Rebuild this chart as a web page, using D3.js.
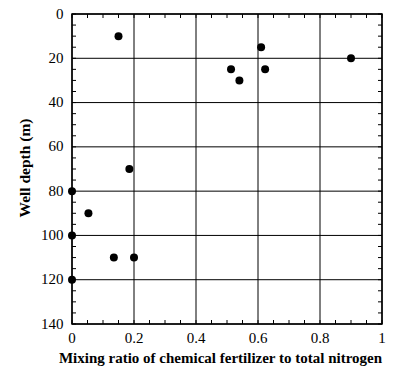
<!DOCTYPE html>
<html>
<head>
<meta charset="utf-8">
<script src="https://cdn.jsdelivr.net/npm/d3@7"></script>
</head>
<body style="margin:0; background:#fff">
<svg id="chart" width="399" height="366"></svg>
<script>
const ratio = [0.15, 0.61, 0.513, 0.623, 0.54, 0.9, 0.185, 0, 0.053, 0, 0.135, 0.2, 0];
const depth = [10, 15, 25, 25, 30, 20, 70, 80, 90, 100, 110, 110, 120];
const xTicks = [0, 0.2, 0.4, 0.6, 0.8, 1];
const yTicks = [0, 20, 40, 60, 80, 100, 120, 140];

(() => {
  const width = 399;
  const height = 366;
  const margin = { top: 14, right: 17, bottom: 42, left: 72 };
  const innerWidth = width - margin.left - margin.right;
  const innerHeight = height - margin.top - margin.bottom;
  const FONT = "'Liberation Serif'";

  const svg = d3.select("#chart");
  const g = svg.append("g")
    .attr("transform", `translate(${margin.left}, ${margin.top})`);

  const x = d3.scaleLinear().domain([0, 1]).range([0, innerWidth]);
  const y = d3.scaleLinear().domain([0, 140]).range([0, innerHeight]);

  // grid
  g.append("g").selectAll("line")
    .data(xTicks)
    .join("line")
    .attr("x1", d => x(d)).attr("x2", d => x(d))
    .attr("y1", 0).attr("y2", innerHeight)
    .attr("stroke", "#000").attr("stroke-width", 1);

  g.append("g").selectAll("line")
    .data(yTicks)
    .join("line")
    .attr("x1", 0).attr("x2", innerWidth)
    .attr("y1", d => y(d)).attr("y2", d => y(d))
    .attr("stroke", "#000").attr("stroke-width", 1);

  // minor ticks, inside on all sides
  const xMinor = d3.range(0, 1.0001, 0.05);
  const yMinor = d3.range(0, 140.001, 5);
  const tk = 4;
  [0, innerHeight].forEach(edge => {
    g.append("g").selectAll("line")
      .data(xMinor)
      .join("line")
      .attr("x1", d => x(d)).attr("x2", d => x(d))
      .attr("y1", edge).attr("y2", edge === 0 ? tk : edge - tk)
      .attr("stroke", "#000");
  });
  [0, innerWidth].forEach(edge => {
    g.append("g").selectAll("line")
      .data(yMinor)
      .join("line")
      .attr("y1", d => y(d)).attr("y2", d => y(d))
      .attr("x1", edge).attr("x2", edge === 0 ? tk : edge - tk)
      .attr("stroke", "#000");
  });

  // frame
  g.append("rect")
    .attr("width", innerWidth)
    .attr("height", innerHeight)
    .attr("fill", "none")
    .attr("stroke", "#000")
    .attr("stroke-width", 1.5);

  // tick labels
  g.append("g").selectAll("text")
    .data(xTicks)
    .join("text")
    .attr("x", d => x(d))
    .attr("y", innerHeight + 19)
    .attr("text-anchor", "middle")
    .style("font-family", FONT)
    .style("font-size", "15px")
    .text(d => d3.format("")(d));

  g.append("g").selectAll("text")
    .data(yTicks)
    .join("text")
    .attr("x", -8.5)
    .attr("y", d => y(d) + 4.5)
    .attr("text-anchor", "end")
    .style("font-family", FONT)
    .style("font-size", "15px")
    .text(d => d);

  // axis titles
  g.append("text")
    .attr("x", innerWidth / 2 - 6.5)
    .attr("y", innerHeight + 38.7)
    .attr("text-anchor", "middle")
    .style("font-family", FONT)
    .style("font-size", "15px")
    .style("font-weight", "bold")
    .text("Mixing ratio of chemical fertilizer to total nitrogen");

  g.append("text")
    .attr("transform", "rotate(-90)")
    .attr("x", -innerHeight / 2 + 1)
    .attr("y", -42.4)
    .attr("text-anchor", "middle")
    .style("font-family", FONT)
    .style("font-size", "15.5px")
    .style("font-weight", "bold")
    .text("Well depth (m)");

  // points
  const pts = ratio.map((r, i) => ({ r, d: depth[i] }));
  g.append("g").selectAll("circle")
    .data(pts)
    .join("circle")
    .attr("cx", d => x(d.r))
    .attr("cy", d => y(d.d))
    .attr("r", 4)
    .attr("fill", "#000");
})();
</script>
</body>
</html>
